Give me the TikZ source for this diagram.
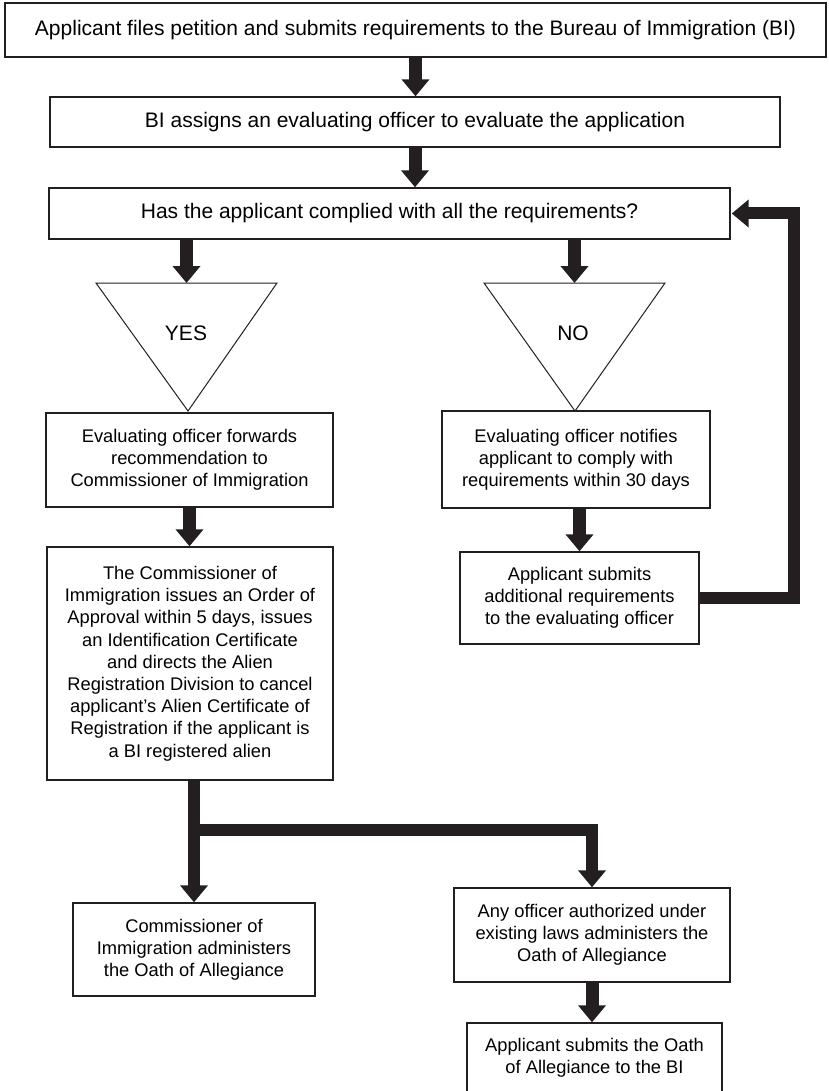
\documentclass[tikz,border=0pt]{standalone}
\usepackage{fontspec}
\setmainfont{Liberation Sans}
\usetikzlibrary{arrows.meta}
\definecolor{ink}{HTML}{231F20}
\begin{document}
\begin{tikzpicture}[x=1pt,y=-1pt,
  box/.style={draw=ink, line width=1.4pt, fill=white, align=center, inner sep=0pt},
  bigtxt/.style={font=\fontsize{21}{25}\selectfont},
  smalltxt/.style={font=\fontsize{18.3}{22.2}\selectfont},
  flow/.style={draw=ink, line width=13pt, -{Triangle[width=27pt,length=17pt]}},
  flowbent/.style={draw=ink, line width=12pt, -{Triangle[width=27pt,length=17pt]}},
  tri/.style={draw=ink, line width=1pt}
]
\useasboundingbox (0,0) rectangle (828,1091);
\clip (0,0) rectangle (828,1091);

% boxes
\node[box, bigtxt, minimum width=821pt, minimum height=54pt] (b1) at (415.5,30)
  {Applicant files petition and submits requirements to the Bureau of Immigration (BI)};
\node[box, bigtxt, minimum width=730pt, minimum height=50pt] (b2) at (415,122)
  {BI assigns an evaluating officer to evaluate the application};
\node[box, bigtxt, minimum width=681pt, minimum height=51pt] (b3) at (389.5,213.5)
  {Has the applicant complied with all the requirements?};

% triangles
\coordinate (ty) at (186.5,283);
\coordinate (tn) at (574.5,283);
\draw[tri] (96,283) -- (277,283) -- (188,411) -- cycle;
\draw[tri] (484,283) -- (665,283) -- (575,411) -- cycle;
\node[bigtxt] (yes) at (186,333) {YES};
\node[bigtxt] (no) at (573,333) {NO};

\node[box, smalltxt, minimum width=287pt, minimum height=94pt] (y1) at (189.5,460)
  {Evaluating officer forwards\\recommendation to\\Commissioner of Immigration};
\node[box, smalltxt, minimum width=286pt, minimum height=233pt] (y2) at (190,663.5)
  {The Commissioner of\\Immigration issues an Order of\\Approval within 5 days, issues\\an Identification Certificate\\and directs the Alien\\Registration Division to cancel\\applicant’s Alien Certificate of\\Registration if the applicant is\\a BI registered alien};
\node[box, smalltxt, minimum width=268pt, minimum height=97pt] (n1) at (576,459.5)
  {Evaluating officer notifies\\applicant to comply with\\requirements within 30 days};
\node[box, smalltxt, minimum width=239pt, minimum height=92pt] (n2) at (579.5,598)
  {Applicant submits\\additional requirements\\to the evaluating officer};
\node[box, smalltxt, minimum width=242pt, minimum height=93pt] (c) at (194,949.5)
  {Commissioner of\\Immigration administers\\the Oath of Allegiance};
\node[box, smalltxt, minimum width=276pt, minimum height=94pt] (d) at (592,935)
  {Any officer authorized under\\existing laws administers the\\Oath of Allegiance};
\node[box, smalltxt, minimum width=255pt, minimum height=70pt] (e) at (594.5,1058)
  {Applicant submits the Oath\\of Allegiance to the BI};

% connectors
\draw[flow] (b1.south) -- (b1.south |- b2.north);
\draw[flow] (b2.south) -- (b2.south |- b3.north);
\draw[flow] ([yshift=2pt]b3.south -| ty) -- (ty);
\draw[flow] ([yshift=2pt]b3.south -| tn) -- (tn);
\draw[flow] (y1.south) -- (y1.south |- y2.north);
\draw[flow] (n2.north |- n1.south) -- (n2.north);

\coordinate (lp) at (794,400);
\draw[flowbent] (n2.east) -- (n2.east -| lp) -- (lp |- b3.east) -- ([xshift=1pt]b3.east);

\coordinate (br) at (194,830);
\draw[flowbent] (c.north |- y2.south) -- (c.north);
\draw[flowbent] (br) -| (d.north);
\draw[flow] (d.south) -- (d.south |- e.north);
\end{tikzpicture}
\end{document}
